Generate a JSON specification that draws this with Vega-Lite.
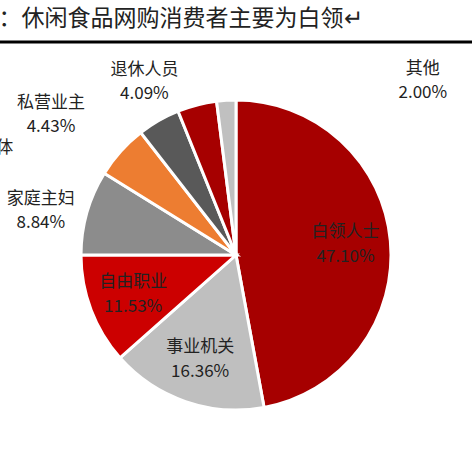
{
  "$schema": "https://vega.github.io/schema/vega-lite/v6.json",
  "description": "休闲食品网购消费者职业构成饼图",
  "width": 472,
  "height": 426,
  "autosize": {"type": "none"},
  "padding": {"left": 0, "right": 0, "top": 42, "bottom": 4},
  "title": {
    "text": "：休闲食品网购消费者主要为白领↵",
    "anchor": "start",
    "font": "Noto Sans CJK SC",
    "fontSize": 23,
    "fontWeight": "normal",
    "color": "#222222",
    "offset": 10
  },
  "layer": [
    {
      "data": {"values": [{}]},
      "mark": {"type": "rule", "color": "#000000", "strokeWidth": 3},
      "encoding": {"y": {"value": 0}}
    },
    {
      "data": {
        "values": [
          {"category": "白领人士", "share": 0.4710},
          {"category": "事业机关", "share": 0.1636},
          {"category": "自由职业", "share": 0.1153},
          {"category": "家庭主妇", "share": 0.0884},
          {"category": "个体", "share": 0.0565},
          {"category": "私营业主", "share": 0.0443},
          {"category": "退休人员", "share": 0.0409},
          {"category": "其他", "share": 0.0200}
        ]
      },
      "transform": [{"window": [{"op": "row_number", "as": "rank"}]}],
      "encoding": {
        "theta": {"field": "share", "type": "quantitative", "stack": true},
        "order": {"field": "rank", "type": "quantitative"}
      },
      "layer": [
        {
          "mark": {"type": "arc", "outerRadius": 155, "stroke": "white", "strokeWidth": 3},
          "encoding": {
            "color": {
              "field": "category",
              "type": "nominal",
              "scale": {
                "domain": ["白领人士", "事业机关", "自由职业", "家庭主妇", "个体", "私营业主", "退休人员", "其他"],
                "range": ["#a60000", "#bfbfbf", "#cc0000", "#8c8c8c", "#ed7d31", "#595959", "#a60000", "#c0c0c0"]
              },
              "legend": null
            }
          }
        },
        {
          "mark": {"type": "text", "clip": true, "radius": 110, "dy": -12.5, "fontSize": 17, "color": "#222222"},
          "encoding": {
            "text": {"condition": {"test": "indexof(['白领人士','事业机关','自由职业'], datum.category) >= 0", "field": "category", "type": "nominal"}, "value": ""}
          }
        },
        {
          "mark": {"type": "text", "clip": true, "radius": 110, "dy": 12.5, "fontSize": 17, "color": "#222222"},
          "encoding": {
            "text": {"condition": {"test": "indexof(['白领人士','事业机关','自由职业'], datum.category) >= 0", "field": "share", "type": "quantitative", "format": ".2%"}, "value": ""}
          }
        },
        {
          "mark": {"type": "text", "clip": true, "radius": 200, "thetaOffset": -0.056, "dy": -12, "fontSize": 17, "color": "#222222"},
          "encoding": {
            "text": {"condition": {"test": "datum.category === '家庭主妇'", "field": "category", "type": "nominal"}, "value": ""}
          }
        },
        {
          "mark": {"type": "text", "clip": true, "radius": 200, "thetaOffset": -0.056, "dy": 12, "fontSize": 17, "color": "#222222"},
          "encoding": {
            "text": {"condition": {"test": "datum.category === '家庭主妇'", "field": "share", "type": "quantitative", "format": ".2%"}, "value": ""}
          }
        },
        {
          "mark": {"type": "text", "clip": true, "radius": 247, "thetaOffset": -0.285, "align": "right", "fontSize": 17, "color": "#222222"},
          "encoding": {
            "text": {"condition": {"test": "datum.category === '个体'", "field": "category", "type": "nominal"}, "value": ""}
          }
        },
        {
          "mark": {"type": "text", "clip": true, "radius": 232, "thetaOffset": -0.401, "dy": -12, "fontSize": 17, "color": "#222222"},
          "encoding": {
            "text": {"condition": {"test": "datum.category === '私营业主'", "field": "category", "type": "nominal"}, "value": ""}
          }
        },
        {
          "mark": {"type": "text", "clip": true, "radius": 232, "thetaOffset": -0.401, "dy": 12, "fontSize": 17, "color": "#222222"},
          "encoding": {
            "text": {"condition": {"test": "datum.category === '私营业主'", "field": "share", "type": "quantitative", "format": ".2%"}, "value": ""}
          }
        },
        {
          "mark": {"type": "text", "clip": true, "radius": 196, "thetaOffset": -0.232, "dy": -12, "fontSize": 17, "color": "#222222"},
          "encoding": {
            "text": {"condition": {"test": "datum.category === '退休人员'", "field": "category", "type": "nominal"}, "value": ""}
          }
        },
        {
          "mark": {"type": "text", "clip": true, "radius": 196, "thetaOffset": -0.232, "dy": 12, "fontSize": 17, "color": "#222222"},
          "encoding": {
            "text": {"condition": {"test": "datum.category === '退休人员'", "field": "share", "type": "quantitative", "format": ".2%"}, "value": ""}
          }
        },
        {
          "mark": {"type": "text", "clip": true, "radius": 255, "thetaOffset": 0.885, "dy": -12, "fontSize": 17, "color": "#222222"},
          "encoding": {
            "text": {"condition": {"test": "datum.category === '其他'", "field": "category", "type": "nominal"}, "value": ""}
          }
        },
        {
          "mark": {"type": "text", "clip": true, "radius": 255, "thetaOffset": 0.885, "dy": 12, "fontSize": 17, "color": "#222222"},
          "encoding": {
            "text": {"condition": {"test": "datum.category === '其他'", "field": "share", "type": "quantitative", "format": ".2%"}, "value": ""}
          }
        }
      ]
    }
  ],
  "config": {
    "font": "Noto Sans CJK SC",
    "view": {"stroke": null}
  }
}
